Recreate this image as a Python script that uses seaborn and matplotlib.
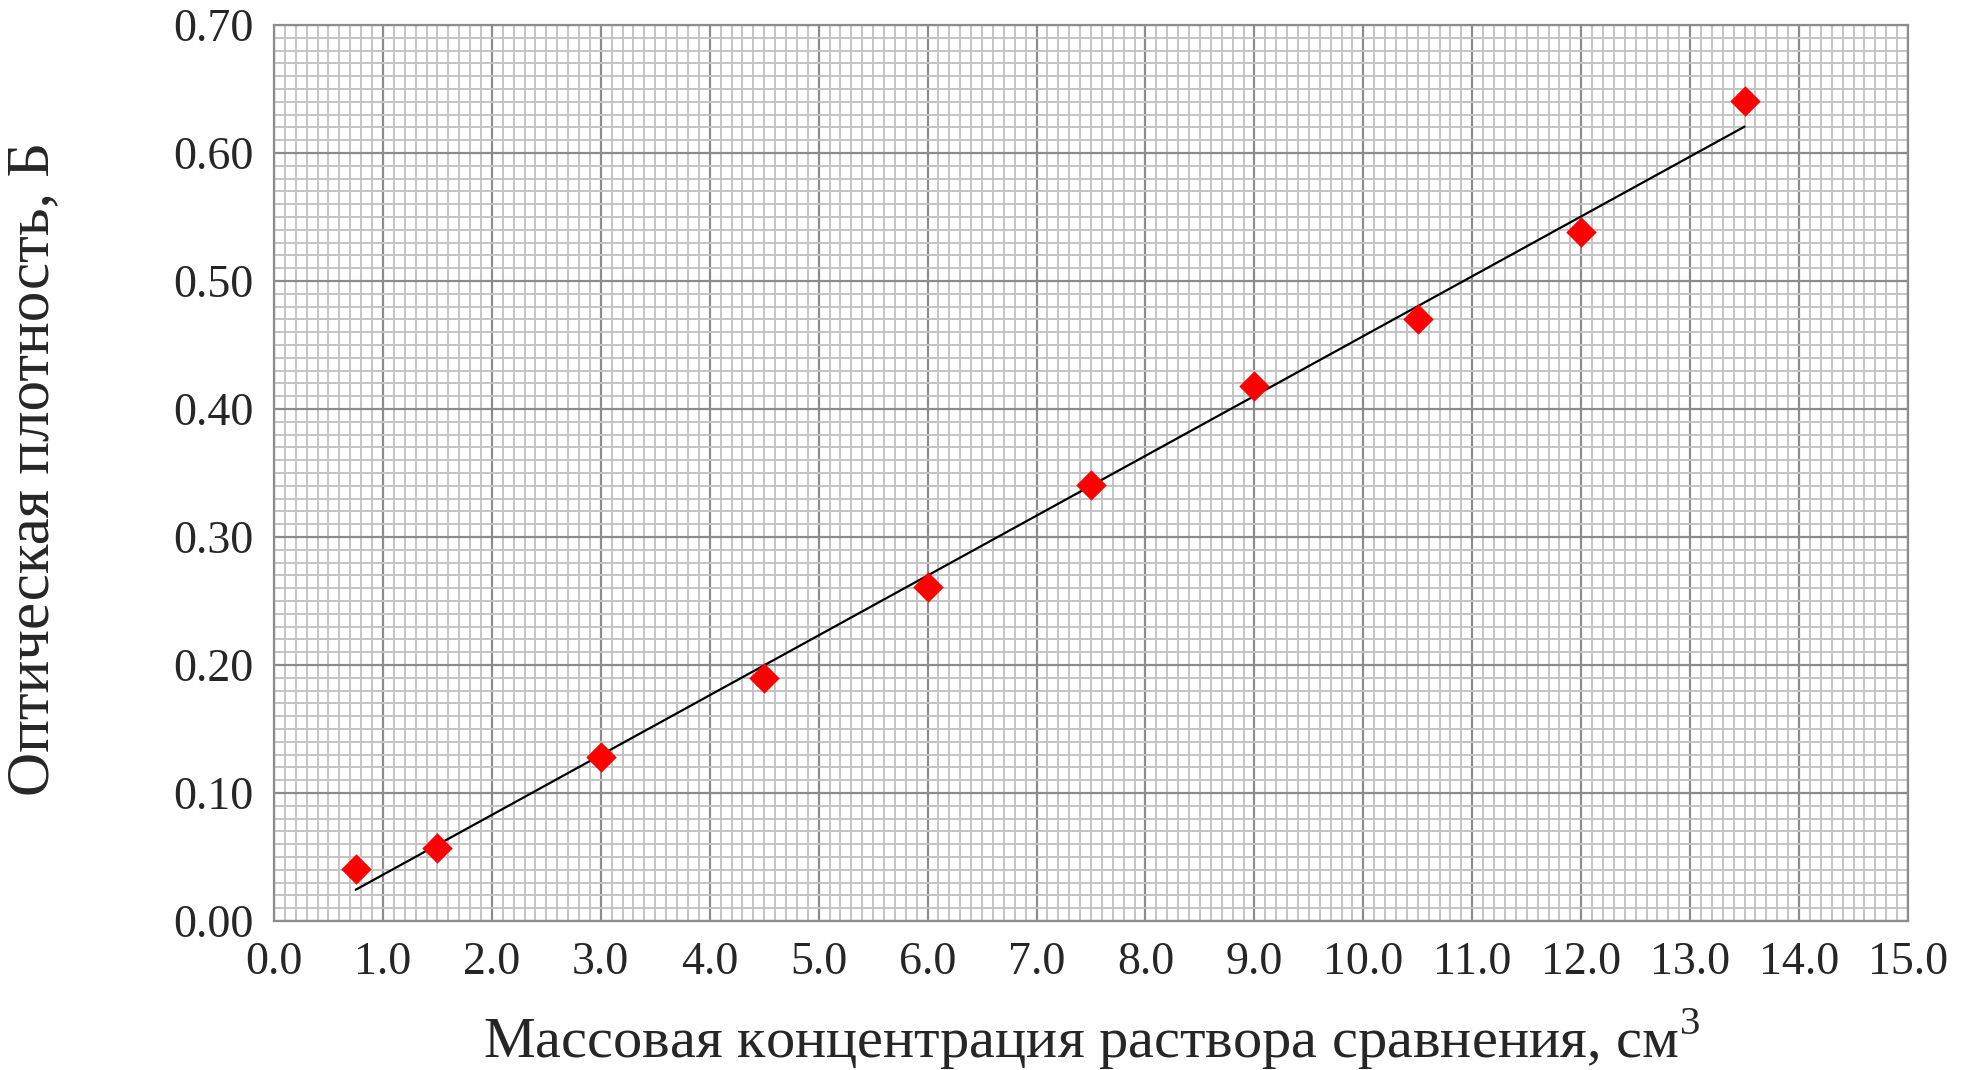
import numpy as np
import pandas as pd
import matplotlib
matplotlib.use("Agg")
import matplotlib.pyplot as plt
import seaborn as sns
from matplotlib.ticker import MultipleLocator, FormatStrFormatter

# Calibration points
volume = [0.75, 1.5, 3.0, 4.5, 6.0, 7.5, 9.0, 10.5, 12.0, 13.5]
density = [0.041, 0.057, 0.128, 0.190, 0.261, 0.341, 0.418, 0.470, 0.538, 0.641]

x_label = "Массовая концентрация раствора сравнения, см$^3$"
y_label = "Оптическая плотность, Б"

sns.set_style("white")
plt.rcParams["font.family"] = ["Liberation Serif", "DejaVu Serif"]
plt.rcParams["mathtext.fontset"] = "custom"
plt.rcParams["mathtext.rm"] = "Liberation Serif"

df = pd.DataFrame({"x": volume, "y": density})

# Linear trend line over the data range
slope, intercept = np.polyfit(df["x"], df["y"], 1)
trend = pd.DataFrame({"x": [df["x"].min(), df["x"].max()]})
trend["y"] = slope * trend["x"] + intercept

fig = plt.figure(figsize=(19.62, 10.70), dpi=100)
ax = fig.add_axes([274 / 1962, 1 - 921 / 1070, (1908 - 274) / 1962, (921 - 25) / 1070])

ax.set_xlim(0, 15)
ax.set_ylim(0, 0.70)
ax.xaxis.set_major_locator(MultipleLocator(1.0))
ax.xaxis.set_minor_locator(MultipleLocator(0.1))
ax.yaxis.set_major_locator(MultipleLocator(0.10))
ax.yaxis.set_minor_locator(MultipleLocator(0.01))
ax.xaxis.set_major_formatter(FormatStrFormatter("%.1f"))
ax.yaxis.set_major_formatter(FormatStrFormatter("%.2f"))

ax.grid(which="minor", color="#c4c4c4", linewidth=1.4)
ax.grid(which="major", color="#8c8c8c", linewidth=1.6)
ax.set_axisbelow(True)

for side in ["left", "bottom", "top", "right"]:
    ax.spines[side].set_color("#8c8c8c")
    ax.spines[side].set_linewidth(1.6)

ax.tick_params(which="major", direction="out", length=9, width=1.5, color="#8c8c8c",
               labelsize=33, pad=6)
ax.tick_params(which="minor", direction="out", length=7, width=1.5, color="#8c8c8c")

sns.lineplot(data=trend, x="x", y="y", color="black", linewidth=1.6, ax=ax, legend=False)
sns.scatterplot(data=df, x="x", y="y", marker="D", s=240, color="red",
                linewidth=0, ax=ax, zorder=3, legend=False)

ax.set_xlabel(x_label, fontsize=42)
ax.set_ylabel(y_label, fontsize=44)
ax.xaxis.set_label_coords(0.5, -0.095)
ax.yaxis.set_label_coords(-0.130, 0.505)

fig.savefig("out.png", dpi=100)
